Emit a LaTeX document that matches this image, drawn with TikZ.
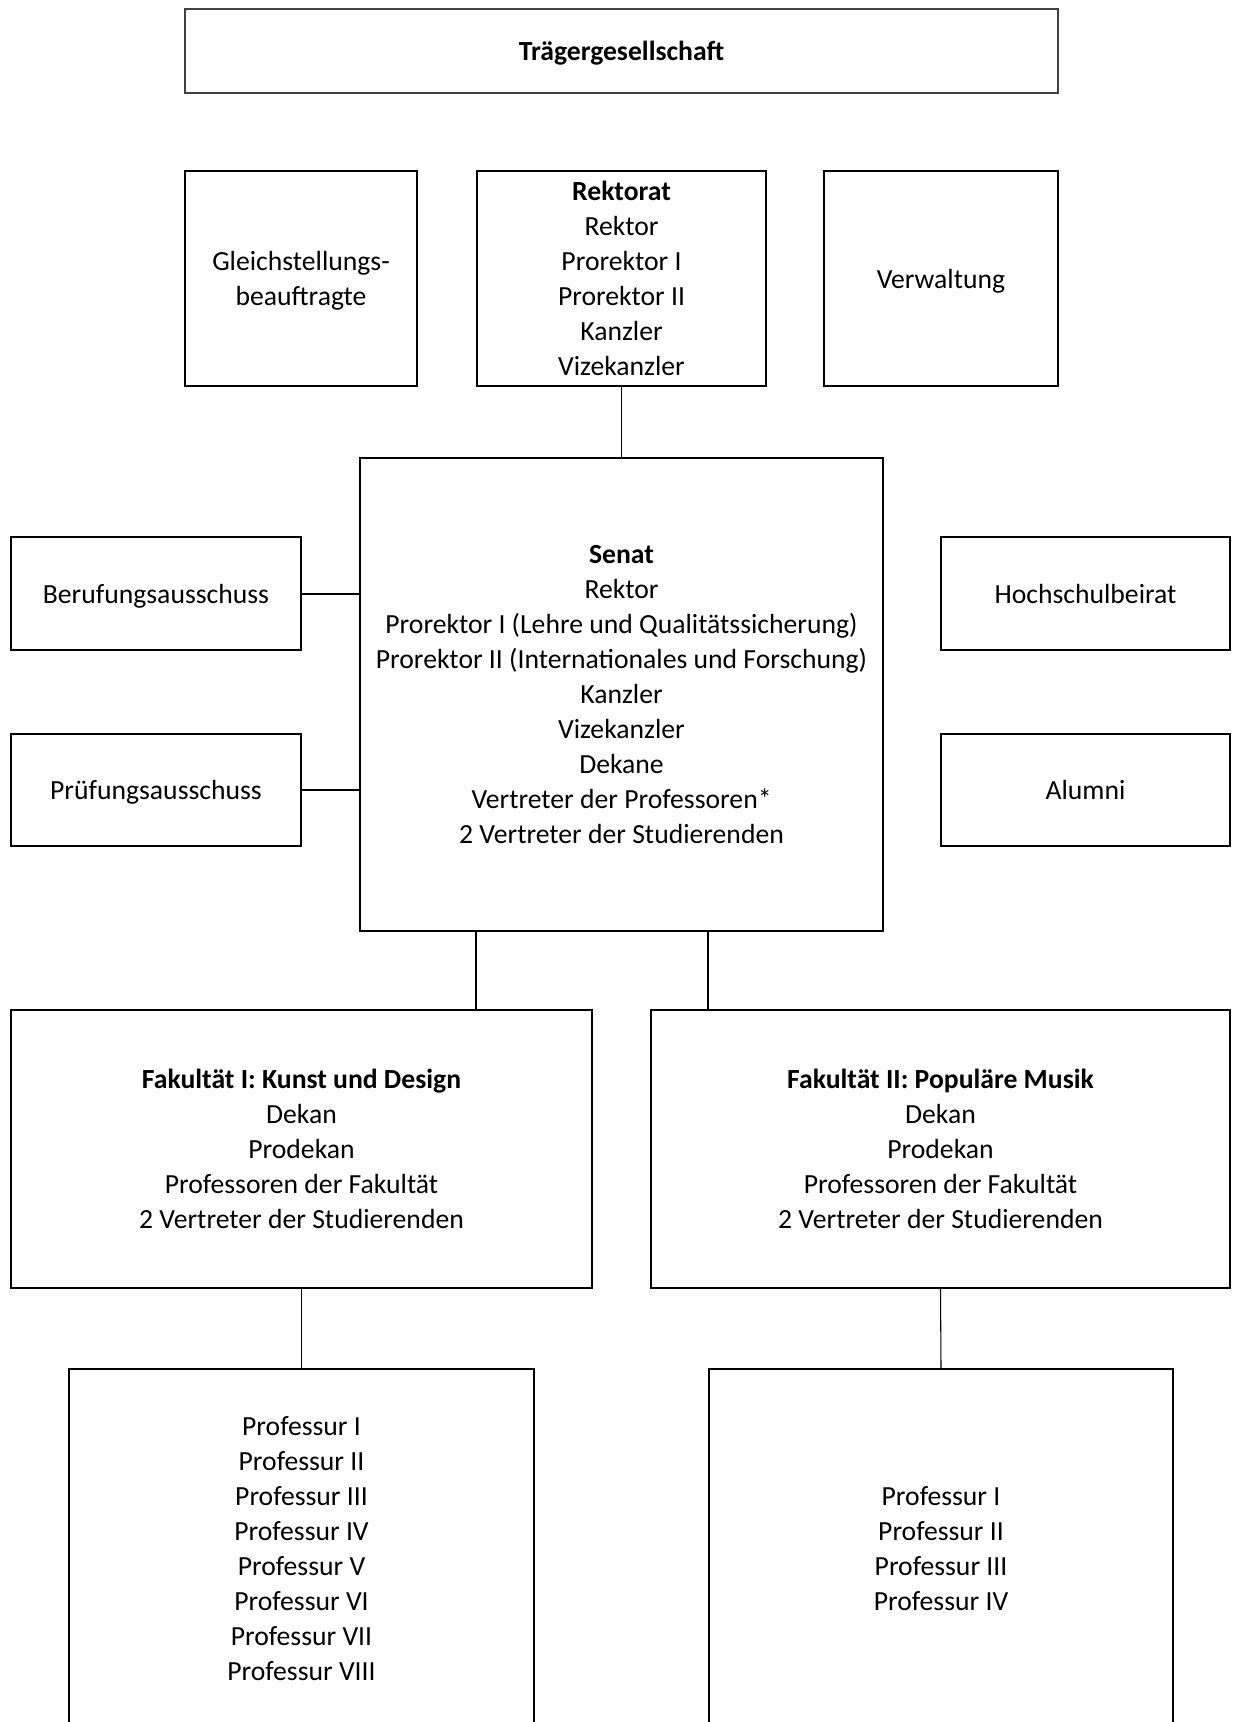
\documentclass[tikz,border=0pt]{standalone}
\usepackage{fontspec}
\setmainfont{Carlito}
\begin{document}
\begin{tikzpicture}[x=0.75pt,y=-0.75pt,
  box/.style={draw=black, line width=1.5pt, inner sep=0pt, align=center, text depth=0pt,
    font=\fontsize{20.75pt}{26.25pt}\selectfont},
  conn/.style={draw=black, line width=0.8pt},
  connthick/.style={draw=black, line width=1.5pt}]
\useasboundingbox (0,0) rectangle (1232,1722);
\clip (0,0) rectangle (1232,1722);
\node[box, draw=black!75, minimum width=873*0.75pt, minimum height=84*0.75pt] (tg) at (621.5,51) {\textbf{Trägergesellschaft}};
\node[box, minimum width=232*0.75pt, minimum height=215*0.75pt] (gleich) at (301,278.5) {Gleichstellungs-\\beauftragte};
\node[box, minimum width=289*0.75pt, minimum height=215*0.75pt] (rek) at (621.5,278.5) {\textbf{Rektorat}\\Rektor\\Prorektor I\\Prorektor II\\Kanzler\\Vizekanzler};
\node[box, minimum width=234*0.75pt, minimum height=215*0.75pt] (verw) at (941,278.5) {Verwaltung};
\node[box, minimum width=523*0.75pt, minimum height=473*0.75pt] (senat) at (621.5,694) {\textbf{Senat}\\Rektor\\Prorektor I (Lehre und Qualitätssicherung)\\Prorektor II (Internationales und Forschung)\\Kanzler\\Vizekanzler\\Dekane\\Vertreter der Professoren*\\2 Vertreter der Studierenden};
\node[box, minimum width=290*0.75pt, minimum height=113*0.75pt] (beruf) at (156,593.5) {Berufungsausschuss};
\node[box, minimum width=290*0.75pt, minimum height=112*0.75pt] (pruef) at (156,790) {Prüfungsausschuss};
\node[box, minimum width=289*0.75pt, minimum height=113*0.75pt] (beirat) at (1085.5,593.5) {Hochschulbeirat};
\node[box, minimum width=289*0.75pt, minimum height=112*0.75pt] (alumni) at (1085.5,790) {Alumni};
\node[box, minimum width=581*0.75pt, minimum height=278*0.75pt] (fak1) at (301.5,1149) {\textbf{Fakultät I: Kunst und Design}\\Dekan\\Prodekan\\Professoren der Fakultät\\2 Vertreter der Studierenden};
\node[box, minimum width=579*0.75pt, minimum height=278*0.75pt] (fak2) at (940.5,1149) {\textbf{Fakultät II: Populäre Musik}\\Dekan\\Prodekan\\Professoren der Fakultät\\2 Vertreter der Studierenden};
\node[box, minimum width=465*0.75pt, minimum height=358*0.75pt] (prof1) at (301.5,1548) {Professur I\\Professur II\\Professur III\\Professur IV\\Professur V\\Professur VI\\Professur VII\\Professur VIII};
\node[box, minimum width=464*0.75pt, minimum height=358*0.75pt] (prof2) at (941,1548) {Professur I\\Professur II\\Professur III\\Professur IV};
\coordinate (c1) at (476,0);
\coordinate (c2) at (708,0);
\draw[conn] (rek.south) -- (senat.north);
\draw[connthick] (beruf.east) -- (senat.west |- beruf.east);
\draw[connthick] (pruef.east) -- (senat.west |- pruef.east);
\draw[conn] (senat.south -| c1) -- (fak1.north -| c1);
\draw[conn] (senat.south -| c2) -- (fak2.north -| c2);
\draw[conn] (fak1.south) -- (prof1.north);
\draw[conn] (fak2.south) -- (prof2.north);
\end{tikzpicture}
\end{document}
